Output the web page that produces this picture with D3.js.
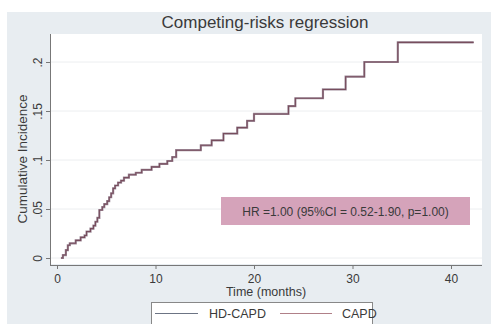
<!DOCTYPE html>
<html>
<head>
<meta charset="utf-8">
<script src="https://cdn.jsdelivr.net/npm/d3@7/dist/d3.min.js"></script>
<style>
  body { margin: 0; background: #fff; }
  text { font-family: "Liberation Sans", Arial, sans-serif; fill: #3a3a3a; }
</style>
</head>
<body>
<script>
// step times (months) and cumulative incidence after each step
var times = [0.4, 0.6, 0.9, 1.1, 1.3, 1.9, 2.4, 2.8, 3.0, 3.4, 3.7, 3.9, 4.1, 4.3, 4.6, 4.8,
  5.1, 5.3, 5.5, 5.7, 5.9, 6.2, 6.5, 6.8, 7.3, 8.0, 8.6, 9.6, 10.4, 11.2, 11.7, 12.1,
  14.6, 15.7, 16.9, 18.3, 19.3, 20.0, 23.5, 24.2, 27.0, 29.3, 31.2, 34.6, 42.3];
var cif = [0, .003, .008, .013, .015, .018, .021, .023, .027, .030, .033, .037, .041, .049, .052, .055,
  .058, .062, .066, .071, .074, .077, .079, .082, .085, .087, .090, .093, .096, .099, .103, .110,
  .115, .120, .127, .133, .140, .147, .155, .163, .172, .185, .200, .220, .220];

var seriesNames = ['HD-CAPD', 'CAPD'];
var seriesColors = ['#a08e9c', '#774d5d'];
var xTicks = [0, 10, 20, 30, 40];
var yTicks = [0, .05, .1, .15, .2];
var yTickLabels = ['0', '.05', '.1', '.15', '.2'];
var note = 'HR =1.00 (95%CI = 0.52-1.90, p=1.00)';

var width = 491, height = 324;
var svg = d3.select('body').append('svg').attr('width', width).attr('height', height);

// graph background
svg.append('rect').attr('x', 7).attr('y', 12).attr('width', width - 7).attr('height', height - 12).attr('fill', '#e8edf1');
svg.append('rect').attr('x', 51).attr('y', 34).attr('width', 431).attr('height', 230).attr('fill', '#fff');

var x = d3.scaleLinear().domain([0, 40]).range([57, 451]);
var y = d3.scaleLinear().domain([0, .2]).range([258, 62]);

// gridlines
svg.selectAll('.grid').data(yTicks).enter().append('line')
  .attr('x1', 51).attr('x2', 482)
  .attr('y1', function (d) { return y(d); }).attr('y2', function (d) { return y(d); })
  .attr('stroke', '#eceef0').attr('stroke-width', 1);

// y axis
var yAxis = svg.append('g').attr('transform', 'translate(50,0)')
  .call(d3.axisLeft(y).tickValues(yTicks).tickSize(4).tickFormat(function (d, i) { return yTickLabels[i]; }));
yAxis.select('.domain').attr('d', 'M0.5,34V265.5').attr('stroke', '#777');
yAxis.selectAll('.tick line').attr('stroke', '#777');
yAxis.selectAll('.tick text')
  .attr('x', 0).attr('y', 0).attr('dy', 0)
  .attr('transform', 'translate(-8,0) rotate(-90)')
  .attr('text-anchor', 'middle')
  .style('font-family', '"Liberation Sans", Arial, sans-serif')
  .style('font-size', '12px').attr('fill', '#3a3a3a');

// x axis
var xAxis = svg.append('g').attr('transform', 'translate(0,265)')
  .call(d3.axisBottom(x).tickValues(xTicks).tickSize(4));
xAxis.select('.domain').attr('d', 'M50,0.5H482').attr('stroke', '#777');
xAxis.selectAll('.tick line').attr('stroke', '#777');
xAxis.selectAll('.tick text').attr('y', 9)
  .style('font-family', '"Liberation Sans", Arial, sans-serif')
  .style('font-size', '12px').attr('fill', '#3a3a3a');

// axis titles and title
svg.append('text').attr('x', 266).attr('y', 296).attr('text-anchor', 'middle')
  .style('font-size', '12.5px').text('Time (months)');
svg.append('text').attr('transform', 'translate(27,159) rotate(-90)').attr('text-anchor', 'middle')
  .style('font-size', '13.5px').text('Cumulative Incidence');
svg.append('text').attr('x', 265).attr('y', 28).attr('text-anchor', 'middle')
  .style('font-size', '17px').text('Competing-risks regression');

// curves
var line = d3.line()
  .x(function (d) { return x(d[0]); })
  .y(function (d) { return y(d[1]); })
  .curve(d3.curveStepAfter);
var pts = d3.zip(times, cif);
seriesNames.forEach(function (name, i) {
  svg.append('path').datum(pts).attr('d', line)
    .attr('fill', 'none').attr('stroke', seriesColors[i])
    .attr('stroke-width', i === 0 ? 2.2 : 1.1);
});

// annotation box
svg.append('rect').attr('x', 221).attr('y', 197).attr('width', 249).attr('height', 28).attr('fill', '#d5a3ba');
svg.append('text').attr('x', 345.5).attr('y', 215.5).attr('text-anchor', 'middle')
  .style('font-size', '12px').attr('fill', '#2a2a2a').text(note);

// legend
var legend = svg.append('g');
legend.append('rect').attr('x', 151.5).attr('y', 302.5).attr('width', 221).attr('height', 40)
  .attr('fill', '#fff').attr('stroke', '#888');
var legendLine = [[155, 198], [280, 332]];
var legendText = [209, 342];
seriesNames.forEach(function (name, i) {
  legend.append('line').attr('x1', legendLine[i][0]).attr('x2', legendLine[i][1])
    .attr('y1', 313.5).attr('y2', 313.5).attr('stroke', i === 0 ? '#6c7484' : '#b08088').attr('stroke-width', 1.2);
  legend.append('text').attr('x', legendText[i]).attr('y', 318).style('font-size', '12.5px').text(name);
});
</script>
</body>
</html>
